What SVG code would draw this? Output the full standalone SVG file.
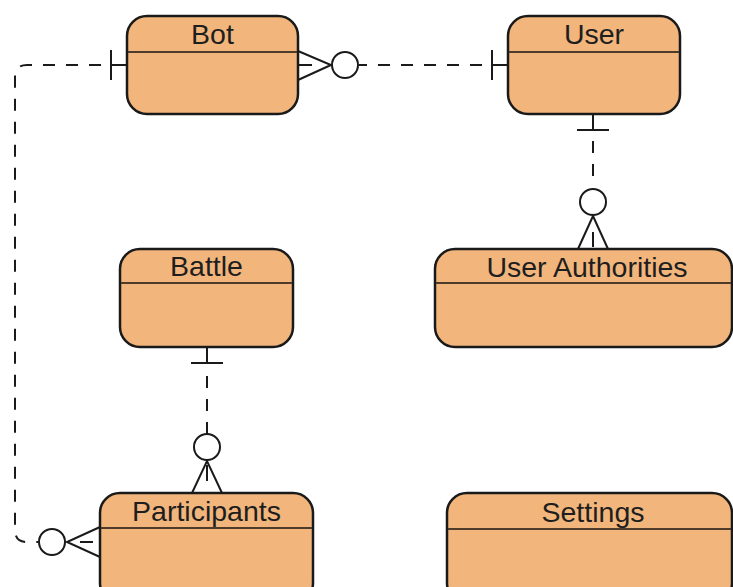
<svg xmlns="http://www.w3.org/2000/svg" width="733" height="587" viewBox="0 0 733 587">
  <style>
    .box { fill: #F2B57C; stroke: #1a1a1a; stroke-width: 2.5; }
    .hdr { stroke: #4e3b2a; stroke-width: 2; }
    .title { font-family: "Liberation Sans", Arial, sans-serif; font-size: 28.5px; fill: #1e1e1e; text-anchor: middle; }
    .dash { fill: none; stroke: #1a1a1a; stroke-width: 2; stroke-dasharray: 12 11; }
    .solid { fill: none; stroke: #1a1a1a; stroke-width: 2; }
    .ring { fill: #ffffff; stroke: #1a1a1a; stroke-width: 2; }
  </style>
  <rect width="733" height="587" fill="#ffffff"/>

  <g id="connectors">
    <!-- Bot (one) to User (one) -->
    <path class="dash" d="M 482 65 L 359 65"/>
    <path class="solid" d="M 492 50 L 492 80 M 492 65 L 508 65"/>
    <path class="solid" d="M 298 51 L 331 65 L 298 80 M 298 65 L 312 65"/>
    <circle class="ring" cx="345" cy="65" r="13"/>

    <!-- Bot to Participants, routed around the left side -->
    <path class="dash" d="M 101 65 L 27 65 Q 15 65 15 77 L 15 530 Q 15 542 27 542 L 38 542"/>
    <path class="solid" d="M 111 50 L 111 80 M 111 65 L 127 65"/>
    <path class="solid" d="M 100 527 L 67 542 L 100 557 M 80 542 L 93 542"/>
    <circle class="ring" cx="52" cy="542" r="13"/>

    <!-- User to User Authorities -->
    <path class="solid" d="M 593 115 L 593 130 M 577 130 L 609 130"/>
    <path class="dash" d="M 593 176 L 593 141"/>
    <circle class="ring" cx="593" cy="202" r="13"/>
    <path class="solid" d="M 578 249 L 593 216 L 608 249 M 593 232 L 593 247"/>

    <!-- Battle to Participants -->
    <path class="solid" d="M 207 347 L 207 363 M 191 363 L 223 363"/>
    <path class="dash" d="M 207 434 L 207 373"/>
    <circle class="ring" cx="207" cy="447" r="13"/>
    <path class="solid" d="M 192 493 L 207 461 L 222 493 M 207 465 L 207 481"/>
  </g>

  <g id="bot">
    <rect class="box" x="127" y="16" width="171" height="98" rx="20"/>
    <line class="hdr" x1="128" y1="52" x2="297" y2="52"/>
    <text class="title" x="212.5" y="44">Bot</text>
  </g>

  <g id="user">
    <rect class="box" x="508" y="16" width="172" height="98" rx="20"/>
    <line class="hdr" x1="509" y1="52" x2="679" y2="52"/>
    <text class="title" x="594" y="44">User</text>
  </g>

  <g id="battle">
    <rect class="box" x="120" y="249" width="173" height="98" rx="20"/>
    <line class="hdr" x1="121" y1="283" x2="292" y2="283"/>
    <text class="title" x="206.5" y="276">Battle</text>
  </g>

  <g id="user-authorities">
    <rect class="box" x="435" y="249" width="297" height="98" rx="20"/>
    <line class="hdr" x1="436" y1="283" x2="731" y2="283"/>
    <text class="title" x="587" y="277">User Authorities</text>
  </g>

  <g id="participants">
    <rect class="box" x="100" y="493" width="213" height="110" rx="20"/>
    <line class="hdr" x1="101" y1="528" x2="312" y2="528"/>
    <text class="title" x="206.5" y="521">Participants</text>
  </g>

  <g id="settings">
    <rect class="box" x="447" y="493" width="285" height="110" rx="20"/>
    <line class="hdr" x1="448" y1="529" x2="731" y2="529"/>
    <text class="title" x="593" y="522">Settings</text>
  </g>
</svg>
